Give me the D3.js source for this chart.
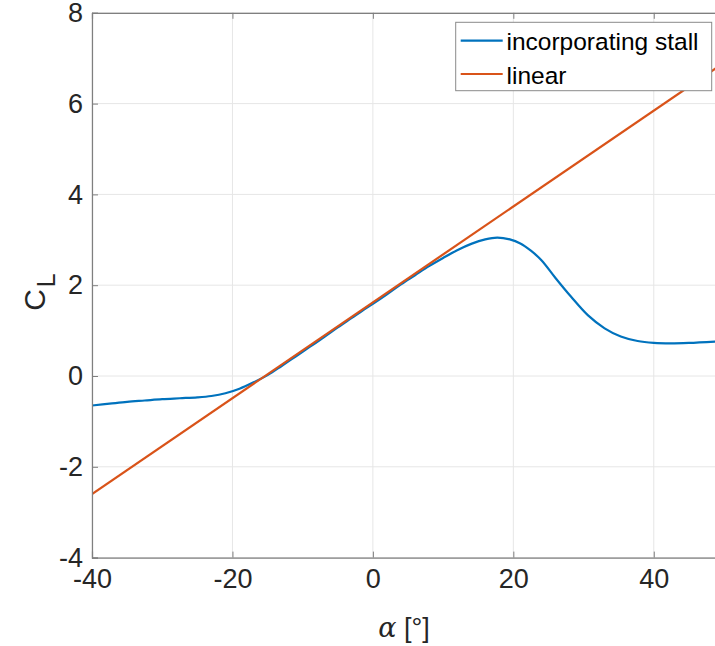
<!DOCTYPE html>
<html>
<head>
<meta charset="utf-8">
<script src="https://d3js.org/d3.v7.min.js"></script>
<style>
  body { margin: 0; background: #fff; }
  svg { display: block; }
</style>
</head>
<body>
<div id="chart"></div>
<script>
// values
var alpha = [-40, -37.5, -35, -32.5, -30, -27.5, -25, -23, -21, -19, -17, -15, -13, -11, -9, -7, -5, -3, -1, 0, 2, 4, 6, 8, 10, 12, 14, 16, 17.7, 19.5, 21, 22.5, 24, 26, 28.2, 30.6, 33, 35.3, 37.7, 40, 42.4, 45, 48.8];
var clStall = [-0.65, -0.61, -0.57, -0.54, -0.51, -0.49, -0.47, -0.44, -0.38, -0.28, -0.14, 0.02, 0.22, 0.43, 0.64, 0.85, 1.07, 1.28, 1.49, 1.59, 1.80, 2.02, 2.22, 2.42, 2.60, 2.77, 2.91, 3.01, 3.05, 3.01, 2.92, 2.76, 2.55, 2.16, 1.75, 1.34, 1.05, 0.87, 0.77, 0.73, 0.72, 0.73, 0.76];
var linAlpha = [-40, 50];
var clLinear = [-2.60, 6.90];
var xTicks = [-40, -20, 0, 20, 40];
var yTicks = [-4, -2, 0, 2, 4, 6, 8];
var seriesNames = ["incorporating stall", "linear"];
var seriesColors = ["#0072BD", "#D95319"];

var W = 715, H = 646;
var mLeft = 92, mTop = 12.8, mBottom = 557.6, mRight = 724;

var svg = d3.select("#chart").append("svg")
  .attr("width", W).attr("height", H)
  .style("font-family", "'Liberation Sans', Arial, sans-serif");

var x = d3.scaleLinear().domain([-40, 50]).range([mLeft, mRight]);
var y = d3.scaleLinear().domain([-4, 8]).range([mBottom, mTop]);

// grid
var grid = svg.append("g");
grid.selectAll(".gx").data(xTicks).enter().append("line")
  .attr("x1", function(d) { return x(d); }).attr("x2", function(d) { return x(d); })
  .attr("y1", mTop).attr("y2", mBottom)
  .attr("stroke", "#e6e6e6").attr("stroke-width", 1);
grid.selectAll(".gy").data(yTicks).enter().append("line")
  .attr("x1", mLeft).attr("x2", mRight)
  .attr("y1", function(d) { return y(d); }).attr("y2", function(d) { return y(d); })
  .attr("stroke", "#e6e6e6").attr("stroke-width", 1);

// lines
svg.append("clipPath").attr("id", "clip")
  .append("rect").attr("x", mLeft).attr("y", mTop).attr("width", mRight - mLeft).attr("height", mBottom - mTop);

var line = d3.line()
  .x(function(d) { return x(d[0]); })
  .y(function(d) { return y(d[1]); });

var stallPts = alpha.map(function(a, i) { return [a, clStall[i]]; });
var linPts = linAlpha.map(function(a, i) { return [a, clLinear[i]]; });

var plot = svg.append("g").attr("clip-path", "url(#clip)");
plot.append("path")
  .attr("d", line.curve(d3.curveCatmullRom.alpha(0.5))(stallPts))
  .attr("fill", "none").attr("stroke", seriesColors[0]).attr("stroke-width", 2.2);
plot.append("path")
  .attr("d", line.curve(d3.curveLinear)(linPts))
  .attr("fill", "none").attr("stroke", seriesColors[1]).attr("stroke-width", 2.2);

// axes (box style, inward ticks)
var axisColor = "#7f7f7f";
var fmt = function(d) { return String(d); };
var xAxis = svg.append("g").attr("transform", "translate(0," + mBottom + ")")
  .call(d3.axisBottom(x).tickValues(xTicks).tickSize(-6).tickPadding(11).tickFormat(fmt));
var xAxisTop = svg.append("g").attr("transform", "translate(0," + mTop + ")")
  .call(d3.axisTop(x).tickValues(xTicks).tickSize(-6).tickFormat(""));
var yAxis = svg.append("g").attr("transform", "translate(" + mLeft + ",0)")
  .call(d3.axisLeft(y).tickValues(yTicks).tickSize(-6).tickPadding(9).tickFormat(fmt));

[xAxis, xAxisTop, yAxis].forEach(function(g) {
  g.select(".domain").attr("stroke", axisColor).attr("stroke-width", 1.2);
  g.selectAll(".tick line").attr("stroke", axisColor);
  g.selectAll(".tick text").attr("fill", "#262626").style("font-size", "27px")
    .style("font-family", "'Liberation Sans', Arial, sans-serif");
});
xAxis.selectAll(".tick text").attr("dy", "0.71em");

// axis labels
svg.append("text")
  .attr("transform", "translate(45,292) rotate(-90)")
  .attr("text-anchor", "middle")
  .attr("fill", "#262626")
  .style("font-size", "30px")
  .text("C")
  .append("tspan").attr("dy", 10).attr("dx", 2).style("font-size", "25px").text("L");

var xl = svg.append("text")
  .attr("x", 404).attr("y", 637)
  .attr("text-anchor", "middle")
  .attr("fill", "#262626")
  .style("font-size", "27px");
xl.append("tspan").style("font-family", "'DejaVu Serif', 'Liberation Serif', serif").style("font-style", "italic").text("\u03b1");
xl.append("tspan").text(" [\u00b0]");

// legend
var lg = svg.append("g");
lg.append("rect")
  .attr("x", 455.7).attr("y", 22.3).attr("width", 256).attr("height", 68.4)
  .attr("fill", "#fff").attr("stroke", "#8a8a8a").attr("stroke-width", 1);
seriesNames.forEach(function(name, i) {
  var yy = 40.7 + i * 33.3;
  lg.append("line").attr("x1", 460.7).attr("x2", 502.7).attr("y1", yy).attr("y2", yy)
    .attr("stroke", seriesColors[i]).attr("stroke-width", 2.2);
  lg.append("text").attr("x", 506.5).attr("y", yy + 9.5)
    .attr("fill", "#000").style("font-size", "24.5px").text(name);
});
</script>
</body>
</html>
